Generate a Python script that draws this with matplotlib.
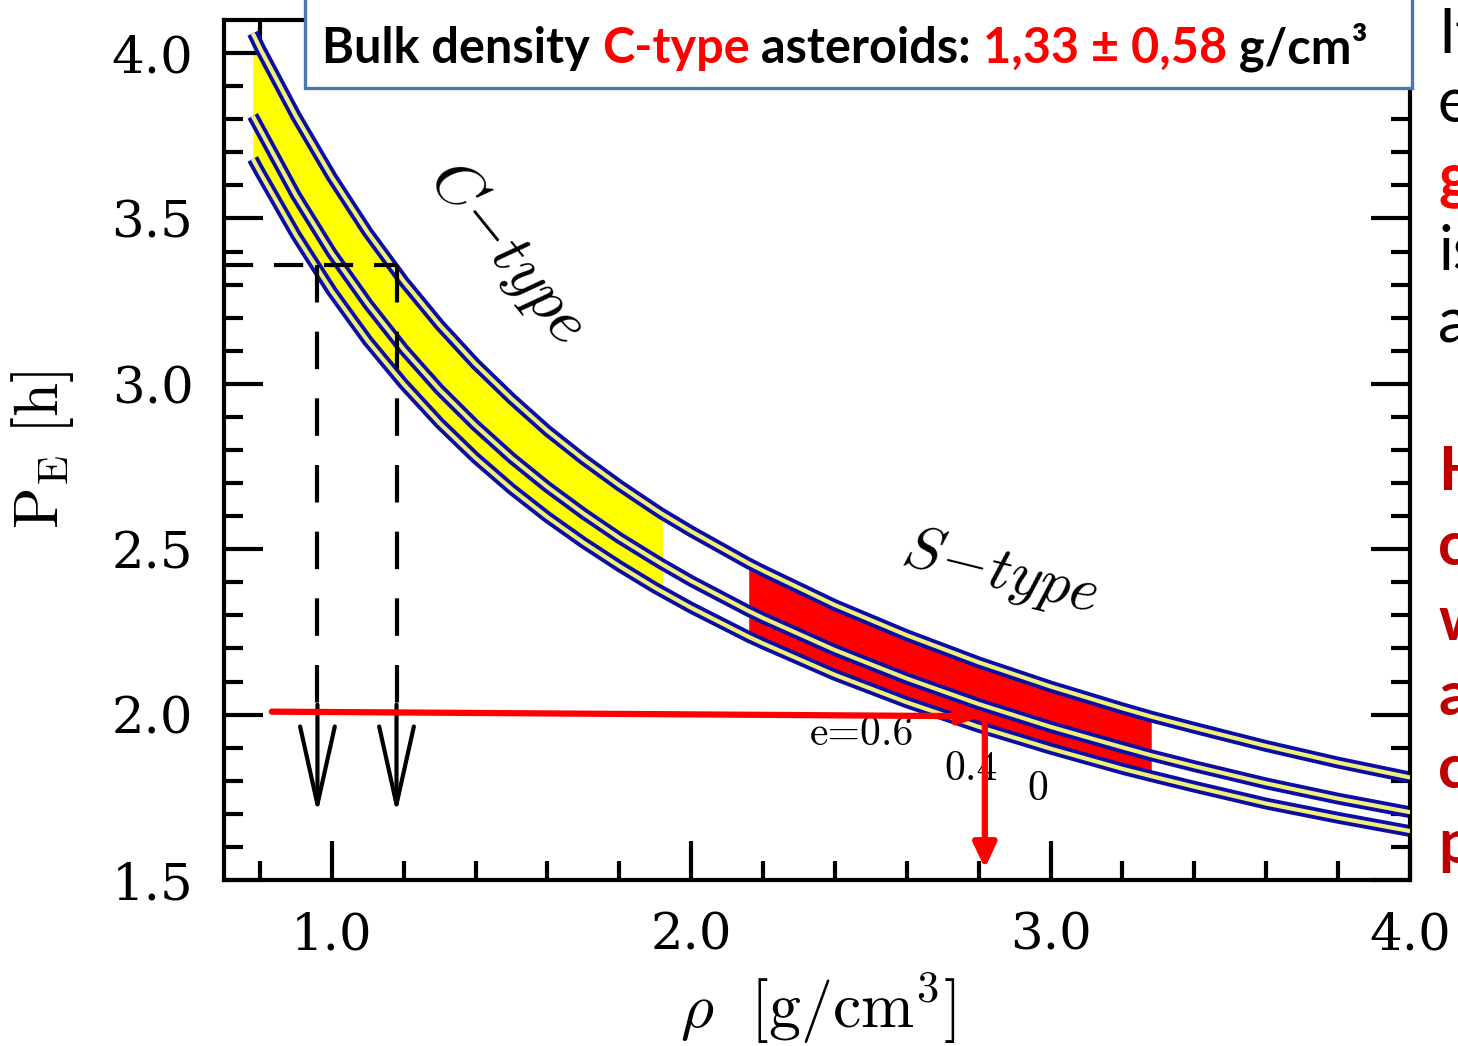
import matplotlib.pyplot as plt
import numpy as np
from matplotlib.patches import Rectangle

plt.rcParams['mathtext.fontset'] = 'cm'
plt.rcParams['font.family'] = 'cmr10'
plt.rcParams['axes.formatter.use_mathtext'] = True

W, H = 1458, 1046

# density grid [g/cm^3]
rho = [0.78, 0.80, 0.90, 1.00, 1.10, 1.20, 1.30, 1.40, 1.50, 1.60, 1.70, 1.80, 1.90, 1.92,
       2.00, 2.16, 2.20, 2.40, 2.60, 2.80, 3.00, 3.20, 3.28, 3.40, 3.60, 3.80, 4.00, 4.10]
# spin barrier period P_E [h] for the three elongation curves
p_top = [4.060, 4.015, 3.810, 3.625, 3.458, 3.310, 3.178, 3.060, 2.955, 2.858, 2.772, 2.693, 2.620, 2.606,
         2.554, 2.457, 2.435, 2.331, 2.240, 2.158, 2.085, 2.019, 1.994, 1.960, 1.905, 1.855, 1.810, 1.788]
p_mid = [3.810, 3.770, 3.570, 3.395, 3.242, 3.104, 2.982, 2.874, 2.776, 2.688, 2.608, 2.534, 2.467, 2.454,
         2.404, 2.313, 2.292, 2.195, 2.109, 2.032, 1.963, 1.901, 1.877, 1.844, 1.792, 1.746, 1.705, 1.684]
p_bot = [3.680, 3.640, 3.450, 3.280, 3.130, 2.999, 2.881, 2.776, 2.682, 2.597, 2.520, 2.449, 2.383, 2.371,
         2.323, 2.235, 2.215, 2.120, 2.037, 1.963, 1.897, 1.836, 1.814, 1.782, 1.731, 1.688, 1.648, 1.627]

# density ranges of the two classes
c_range = (0.78, 1.92)
s_range = (2.16, 3.28)
p_cap = 4.015

# dashed guide lines and arrows
p_guide = 3.358
rho_guide = [0.96, 1.18]
p_arrow_start = 2.03
p_arrow_end = 1.70

# red reading arrows
red_h = ((0.833, 2.009), (2.81, 1.995))
red_v = ((2.817, 1.995), (2.817, 1.535))

xticks = [1.0, 2.0, 3.0, 4.0]
xticklabels = ['1.0', '2.0', '3.0', '4.0']
yticks = [1.5, 2.0, 2.5, 3.0, 3.5, 4.0]
yticklabels = ['1.5', '2.0', '2.5', '3.0', '3.5', '4.0']

fig = plt.figure(figsize=(W / 100, H / 100), dpi=100)
ax = fig.add_axes([224 / W, 1 - 880 / H, (1410 - 224) / W, (880 - 20) / H])

r = np.array(rho)
top = np.array(p_top)
bot = np.array(p_bot)

in_c = (r >= c_range[0]) & (r <= c_range[1])
ax.fill_between(r, bot, np.minimum(top, p_cap), where=in_c, color='#ffff00', lw=0, zorder=1)
in_s = (r >= s_range[0]) & (r <= s_range[1])
ax.fill_between(r, bot, top, where=in_s, color='#ff0000', lw=0, zorder=1)

for p in (p_top, p_mid, p_bot):
    ax.plot(rho, p, color='#0c0ca6', lw=8.5, solid_capstyle='butt', zorder=2)
    ax.plot(rho, p, color='#f0f078', lw=3.0, solid_capstyle='butt', zorder=3)

# dashed guides with open arrows
ax.plot([0.7, rho_guide[1]], [p_guide, p_guide], color='black', lw=3, dashes=(7, 5), zorder=4)
for x in rho_guide:
    ax.plot([x, x], [p_guide, p_arrow_start], color='black', lw=3, dashes=(9, 7), zorder=4)
    ax.annotate('', xy=(x, p_arrow_end), xytext=(x, p_arrow_start),
                arrowprops=dict(arrowstyle='->,head_length=5.6,head_width=1.25', mutation_scale=10,
                                color='black', lw=3, shrinkA=0, shrinkB=0), zorder=4)

ax.annotate('', xy=red_h[1], xytext=red_h[0],
            arrowprops=dict(arrowstyle='-|>,head_length=1.3,head_width=0.45', mutation_scale=10,
                            color='#ff0000', lw=4.5, shrinkA=0, shrinkB=0), zorder=6)
ax.annotate('', xy=red_v[1], xytext=red_v[0],
            arrowprops=dict(arrowstyle='-|>,head_length=1.5,head_width=0.7', mutation_scale=10,
                            color='#ff0000', lw=4.5, shrinkA=0, shrinkB=0), zorder=6)

ax.text(1.49, 3.40, r'$C\!-\!type$', fontsize=46, rotation=-51, ha='center', va='center')
ax.text(2.86, 2.43, r'$S\!-\!type$', fontsize=44, rotation=-14, ha='center', va='center')
ax.text(2.475, 1.94, 'e=0.6', fontsize=30, ha='center', va='center')
ax.text(2.78, 1.834, '0.4', fontsize=30, ha='center', va='center')
ax.text(2.965, 1.773, '0', fontsize=30, ha='center', va='center')

ax.set_xlim(0.7, 4.0)
ax.set_ylim(1.5, 4.1)
ax.set_xticks(xticks)
ax.set_xticklabels(xticklabels, family='DejaVu Serif')
ax.set_xticks(np.arange(0.8, 4.0, 0.2), minor=True)
ax.set_yticks(yticks)
ax.set_yticklabels(yticklabels, family='DejaVu Serif')
ax.set_yticks(np.arange(1.6, 4.1, 0.1), minor=True)
ax.tick_params(which='both', direction='in', top=True, right=True, width=3, labelsize=37)
ax.tick_params(which='major', length=28, pad=22)
ax.tick_params(which='minor', length=14)
for s in ax.spines.values():
    s.set_linewidth(3)

fig.text(818 / W, 1 - 1008 / H, r'$\rho\ \ [\mathrm{g/cm^3}]$', fontsize=46, ha='center', va='center')
fig.text(43 / W, 1 - 450 / H, r'$\mathrm{P_{E}\ [h]}$', fontsize=44, rotation=90, ha='center', va='center')

# headline box
fig.patches.append(Rectangle((305 / W, 1 - 88 / H), (1412 - 305) / W, 0.2, transform=fig.transFigure,
                             facecolor='white', edgecolor='#4a78aa', lw=2.4, zorder=5))
renderer = fig.canvas.get_renderer()
pieces = [('Bulk density ', 'black'), ('C-type', '#ff0000'), (' asteroids: ', 'black'),
          ('1,33 \u00b1 0,58', '#ff0000'), (' g/cm\u00b3', 'black')]
x = 322
for s, c in pieces:
    t = fig.text(x / W, 1 - 63 / H, s, color=c, fontsize=35, fontweight='bold', family='Lato',
                 va='baseline', ha='left', zorder=6)
    x = t.get_window_extent(renderer=renderer).x1

# side text
side = [('It', 35, 'black', 'normal'), ('e', 105, 'black', 'normal'), ('g', 180, '#ff0000', 'bold'),
        ('is', 252, 'black', 'normal'), ('a', 325, 'black', 'normal'), ('H', 472, '#c00000', 'bold'),
        ('c', 547, '#c00000', 'bold'), ('w', 622, '#c00000', 'bold'), ('a', 697, '#c00000', 'bold'),
        ('c', 770, '#c00000', 'bold'), ('p', 845, '#c00000', 'bold')]
for s, y, c, w in side:
    fig.text(1438 / W, 1 - y / H, s, color=c, fontsize=44, fontweight=w, family='Lato',
             va='center', ha='left')

fig.savefig('out.png', dpi=100)
